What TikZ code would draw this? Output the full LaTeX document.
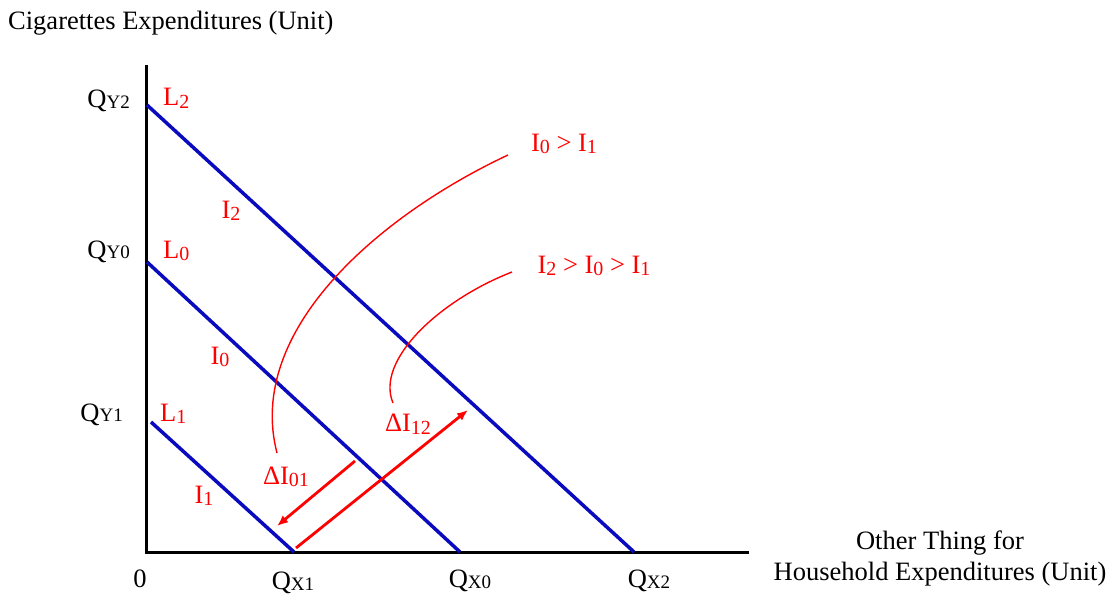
\documentclass[tikz,border=0pt]{standalone}
\usepackage{fontspec}
\setmainfont{Liberation Serif}
\usetikzlibrary{arrows.meta}
\definecolor{lineblue}{RGB}{10,10,190}
\definecolor{labred}{RGB}{255,0,0}
\newcommand{\Qlab}[1]{Q{\fontsize{19}{20}\selectfont\raisebox{-0.5pt}{#1}}}
\newcommand{\Ilab}[1]{I{\fontsize{20}{21}\selectfont\raisebox{-2.5pt}{#1}}}
\newcommand{\Llab}[1]{L{\fontsize{20}{21}\selectfont\raisebox{-2.5pt}{#1}}}
\begin{document}
\begin{tikzpicture}[x=1pt,y=-1pt,
  txt/.style={font=\fontsize{26.5}{30}\selectfont, inner sep=0pt, text=black},
  rtxt/.style={txt, text=labred},
  budget/.style={draw=lineblue, line width=3.5pt},
  axis/.style={draw=black, line width=3pt},
  shiftarrow/.style={draw=labred, line width=2.8pt, -{Latex[length=11pt,width=9pt]}},
  pointer/.style={draw=labred, line width=1.4pt}]
\useasboundingbox (0,0) rectangle (1114,599);
% axes
\coordinate (O) at (146,552);
\coordinate (ytop) at (146,65);
\coordinate (xend) at (749,552);
\draw[axis] (ytop) -- (O) -- (xend);
% budget lines
\coordinate (y2) at (147,105);
\coordinate (x2) at (634,552);
\coordinate (y0) at (147,262);
\coordinate (x0) at (460,552);
\coordinate (y1) at (151,422);
\coordinate (x1) at (294,552);
\draw[budget] (y2) -- (x2);
\draw[budget] (y0) -- (x0);
\draw[budget] (y1) -- (x1);
% shift arrows
\coordinate (a01s) at (355,461);
\coordinate (a01e) at (277,526);
\coordinate (a12s) at (296,548);
\coordinate (a12e) at (468,410);
\draw[shiftarrow] (a01s) -- (a01e);
\draw[shiftarrow] (a12s) -- (a12e);
% axis titles
\node[txt, anchor=base west] (ytitle) at (8,30) {Cigarettes Expenditures (Unit)};
\node[txt, align=center] (xtitle) at (940,558) {Other Thing for\\[1pt]Household Expenditures (Unit)};
% axis labels
\node[txt, anchor=base east] (qy2) at (130,108) {\Qlab{Y2}};
\node[txt, anchor=base east] (qy0) at (130,258) {\Qlab{Y0}};
\node[txt, anchor=base east] (qy1) at (123,421) {\Qlab{Y1}};
\node[txt] (zero) at (140,579) {0};
\node[txt] (qx1) at (293,583) {\Qlab{X1}};
\node[txt] (qx0) at (470,581) {\Qlab{X0}};
\node[txt] (qx2) at (649,581) {\Qlab{X2}};
% red labels
\node[rtxt, anchor=base west] (L2) at (163,106) {\Llab{2}};
\node[rtxt, anchor=base west] (L0) at (163,258) {\Llab{0}};
\node[rtxt, anchor=base west] (L1) at (160,421) {\Llab{1}};
\node[rtxt] (I2) at (231,211) {\Ilab{2}};
\node[rtxt] (I0) at (220,357) {\Ilab{0}};
\node[rtxt] (I1) at (204,496) {\Ilab{1}};
\node[rtxt] (dI01) at (286,477) {Δ\Ilab{01}};
\node[rtxt] (dI12) at (408,424) {Δ\Ilab{12}};
\node[rtxt] (c1) at (564,144) {\Ilab{0} > \Ilab{1}};
\node[rtxt] (c2) at (594,266) {\Ilab{2} > \Ilab{0} > \Ilab{1}};
% pointer curves
\coordinate (p1s) at (508,155);
\coordinate (p1e) at (277,453);
\coordinate (p2s) at (512,272);
\coordinate (p2e) at (393,403);
\draw[pointer] (p1s) .. controls (380,215) and (245,330) .. (p1e);
\draw[pointer] (p2s) .. controls (440,300) and (375,360) .. (p2e);
\end{tikzpicture}
\end{document}
